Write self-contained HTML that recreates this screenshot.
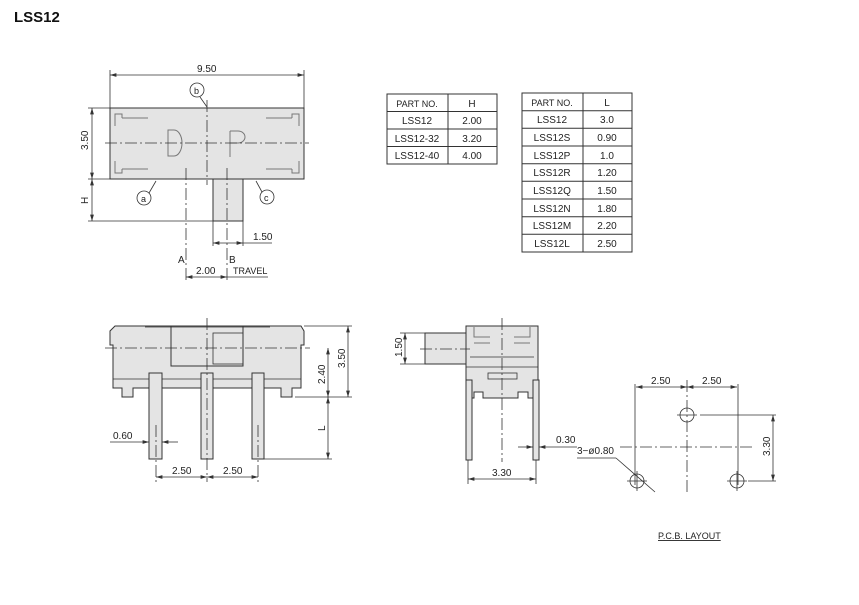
<!DOCTYPE html>
<html><head><meta charset="utf-8"><style>
body{margin:0;background:#fff}
svg{display:block}
text{font-family:"Liberation Sans",sans-serif;font-size:10px;fill:#222}
.b{fill:#e4e4e4;stroke:#333;stroke-width:1}
.l{stroke:#333;stroke-width:0.8;fill:none}
.g{stroke:#777;stroke-width:1;fill:none}
.c{stroke:#333;stroke-width:0.8;fill:none;stroke-dasharray:12 3 2 3}
.t{stroke:#333;stroke-width:1;fill:none}
</style></head><body>
<svg width="859" height="605" viewBox="0 0 859 605">
<defs>
<marker id="a" viewBox="0 0 10 6" refX="10" refY="3" markerWidth="8" markerHeight="5" orient="auto-start-reverse"><path d="M0,0L10,3L0,6z" fill="#333"/></marker>
</defs>
<text x="14" y="22" style="font-size:15px;font-weight:bold;fill:#111">LSS12</text>

<!-- TOP VIEW -->
<rect class="b" x="110" y="108" width="194" height="71"/>
<rect class="b" x="213" y="179" width="30" height="42"/>
<path class="g" d="M115,126V114H122V118M148,118H122M299,126V114H292V118M266,118H292M115,161V173H122V169M148,169H122M299,161V173H292V169M266,169H292"/>
<path d="M168,130h6a8,13 0 0 1 0,26h-6z" class="g"/>
<path class="g" d="M230,131v26M230,131h8a7,6 0 0 1 0,12h-8"/>
<line class="c" x1="105" y1="143" x2="309" y2="143"/>
<line class="c" x1="207" y1="100" x2="207" y2="185"/>
<line class="l" x1="110" y1="70" x2="110" y2="108"/><line class="l" x1="304" y1="70" x2="304" y2="108"/>
<line class="l" x1="110" y1="75" x2="304" y2="75" marker-start="url(#a)" marker-end="url(#a)"/>
<text x="197" y="72">9.50</text>
<line class="l" x1="88" y1="108" x2="110" y2="108"/><line class="l" x1="88" y1="179" x2="110" y2="179"/><line class="l" x1="88" y1="221" x2="213" y2="221"/>
<line class="l" x1="92" y1="108" x2="92" y2="179" marker-start="url(#a)" marker-end="url(#a)"/>
<line class="l" x1="92" y1="179" x2="92" y2="221" marker-start="url(#a)" marker-end="url(#a)"/>
<text transform="translate(88,150) rotate(-90)">3.50</text>
<text transform="translate(88,204) rotate(-90)">H</text>
<line class="c" x1="186" y1="168" x2="186" y2="282"/>
<line class="c" x1="227" y1="168" x2="227" y2="282"/>
<line class="l" x1="213" y1="221" x2="213" y2="246"/><line class="l" x1="243" y1="221" x2="243" y2="246"/>
<line class="l" x1="213" y1="243" x2="243" y2="243" marker-start="url(#a)" marker-end="url(#a)"/>
<line class="l" x1="243" y1="243" x2="272" y2="243"/>
<text x="253" y="240">1.50</text>
<text x="178" y="263">A</text><text x="229" y="263">B</text>
<line class="l" x1="186" y1="277" x2="227" y2="277" marker-start="url(#a)" marker-end="url(#a)"/>
<line class="l" x1="227" y1="277" x2="268" y2="277"/>
<text x="196" y="274">2.00</text><text x="233" y="274" style="font-size:9px">TRAVEL</text>
<circle class="l" cx="197" cy="90" r="7" fill="#fff"/><text x="194" y="94" style="font-size:9px">b</text>
<line class="l" x1="200" y1="97" x2="207" y2="107"/>
<circle class="l" cx="144" cy="198" r="7" fill="#fff"/><text x="141" y="202" style="font-size:9px">a</text>
<line class="l" x1="149" y1="193" x2="156" y2="181"/>
<circle class="l" cx="267" cy="197" r="7" fill="#fff"/><text x="264" y="201" style="font-size:9px">c</text>
<line class="l" x1="262" y1="192" x2="256" y2="181"/>

<!-- TABLES -->
<g class="t">
<rect x="387" y="94" width="110" height="70"/><line x1="448" y1="94" x2="448" y2="164"/>
<line x1="387" y1="111.5" x2="497" y2="111.5"/><line x1="387" y1="129" x2="497" y2="129"/><line x1="387" y1="146.5" x2="497" y2="146.5"/>
<rect x="522" y="93" width="110" height="159"/><line x1="583" y1="93" x2="583" y2="252"/>
<line x1="522" y1="110.7" x2="632" y2="110.7"/><line x1="522" y1="128.3" x2="632" y2="128.3"/><line x1="522" y1="146" x2="632" y2="146"/><line x1="522" y1="163.7" x2="632" y2="163.7"/><line x1="522" y1="181.3" x2="632" y2="181.3"/><line x1="522" y1="199" x2="632" y2="199"/><line x1="522" y1="216.7" x2="632" y2="216.7"/><line x1="522" y1="234.3" x2="632" y2="234.3"/>
</g>
<g style="text-anchor:middle">
<text x="417" y="107" style="font-size:9px">PART NO.</text><text x="472" y="107">H</text>
<text x="417" y="124">LSS12</text><text x="472" y="124">2.00</text>
<text x="417" y="142">LSS12-32</text><text x="472" y="142">3.20</text>
<text x="417" y="159">LSS12-40</text><text x="472" y="159">4.00</text>
<text x="552" y="106" style="font-size:9px">PART NO.</text><text x="607" y="106">L</text>
<text x="552" y="123">LSS12</text><text x="607" y="123">3.0</text>
<text x="552" y="141">LSS12S</text><text x="607" y="141">0.90</text>
<text x="552" y="159">LSS12P</text><text x="607" y="159">1.0</text>
<text x="552" y="176">LSS12R</text><text x="607" y="176">1.20</text>
<text x="552" y="194">LSS12Q</text><text x="607" y="194">1.50</text>
<text x="552" y="212">LSS12N</text><text x="607" y="212">1.80</text>
<text x="552" y="229">LSS12M</text><text x="607" y="229">2.20</text>
<text x="552" y="247">LSS12L</text><text x="607" y="247">2.50</text>
</g>

<!-- FRONT VIEW -->
<path class="b" d="M115,326H301L304,331V345H301V388H292V397H281V388H133V397H122V388H113V345H110V331Z"/>
<line class="l" x1="113" y1="379" x2="301" y2="379"/>
<rect class="g" x="171" y="326" width="72" height="40" style="stroke:#333"/>
<rect class="l" x="213" y="333" width="30" height="31"/>
<line class="l" x1="145" y1="327" x2="270" y2="327"/>
<rect class="b" x="149" y="373" width="13" height="86"/>
<rect class="b" x="201" y="373" width="12" height="86"/>
<rect class="b" x="252" y="373" width="12" height="86"/>
<line class="c" x1="105" y1="348" x2="310" y2="348"/>
<line class="c" x1="207" y1="318" x2="207" y2="482"/>
<line class="c" x1="156" y1="425" x2="156" y2="482"/>
<line class="c" x1="258" y1="425" x2="258" y2="482"/>
<line class="l" x1="304" y1="326" x2="352" y2="326"/><line class="l" x1="295" y1="397" x2="352" y2="397"/><line class="l" x1="264" y1="459" x2="332" y2="459"/>
<line class="l" x1="348" y1="326" x2="348" y2="397" marker-start="url(#a)" marker-end="url(#a)"/>
<line class="l" x1="328" y1="348" x2="328" y2="397" marker-start="url(#a)" marker-end="url(#a)"/>
<line class="l" x1="328" y1="397" x2="328" y2="459" marker-start="url(#a)" marker-end="url(#a)"/>
<text transform="translate(345,368) rotate(-90)">3.50</text>
<text transform="translate(325,384) rotate(-90)">2.40</text>
<text transform="translate(325,431) rotate(-90)">L</text>
<line class="l" x1="156" y1="477" x2="207" y2="477" marker-start="url(#a)" marker-end="url(#a)"/>
<line class="l" x1="207" y1="477" x2="258" y2="477" marker-start="url(#a)" marker-end="url(#a)"/>
<text x="172" y="474">2.50</text><text x="223" y="474">2.50</text>
<line class="l" x1="110" y1="442" x2="149" y2="442" marker-end="url(#a)"/>
<line class="l" x1="162" y1="442" x2="178" y2="442" marker-start="url(#a)"/>
<text x="113" y="439">0.60</text>

<!-- SIDE VIEW -->
<rect class="b" x="425" y="333" width="41" height="31"/>
<path class="b" d="M466,326H538V398H528V392H518V398H483V392H474V398H466Z"/>
<path class="g" d="M474,327V337H490M530,327V337H514M474,343H490M514,343H530"/>
<line class="l" x1="466" y1="367" x2="538" y2="367"/>
<line class="l" x1="470" y1="357" x2="534" y2="357"/>
<rect class="l" x="488" y="373" width="29" height="6" fill="#fff"/>
<rect class="b" x="466" y="380" width="6" height="80"/>
<rect class="b" x="533" y="380" width="6" height="80"/>
<line class="c" x1="502" y1="318" x2="502" y2="462"/>
<line class="c" x1="420" y1="349" x2="470" y2="349"/>
<line class="l" x1="400" y1="333" x2="425" y2="333"/><line class="l" x1="400" y1="364" x2="425" y2="364"/>
<line class="l" x1="405" y1="333" x2="405" y2="364" marker-start="url(#a)" marker-end="url(#a)"/>
<text transform="translate(402,357) rotate(-90)">1.50</text>
<line class="l" x1="468" y1="460" x2="468" y2="484"/><line class="l" x1="536" y1="460" x2="536" y2="484"/>
<line class="l" x1="468" y1="479" x2="536" y2="479" marker-start="url(#a)" marker-end="url(#a)"/>
<text x="492" y="476">3.30</text>
<line class="l" x1="518" y1="447" x2="533" y2="447" marker-end="url(#a)"/>
<line class="l" x1="539" y1="447" x2="577" y2="447" marker-start="url(#a)"/>
<text x="556" y="443">0.30</text>

<!-- PCB -->
<g class="l">
<line x1="635" y1="384" x2="635" y2="485"/><line x1="738" y1="384" x2="738" y2="485"/>
<line x1="636" y1="387" x2="687" y2="387" marker-start="url(#a)" marker-end="url(#a)"/>
<line x1="687" y1="387" x2="737" y2="387" marker-start="url(#a)" marker-end="url(#a)"/>
<line x1="700" y1="415" x2="776" y2="415"/><line x1="748" y1="481" x2="776" y2="481"/>
<line x1="773" y1="415" x2="773" y2="481" marker-start="url(#a)" marker-end="url(#a)"/>
<circle cx="687" cy="415" r="7"/><circle cx="637" cy="481" r="7"/><circle cx="737" cy="481" r="7"/>
<line x1="677" y1="415" x2="697" y2="415"/><line x1="627" y1="481" x2="647" y2="481"/><line x1="727" y1="481" x2="747" y2="481"/>
<line x1="637" y1="471" x2="637" y2="491"/><line x1="737" y1="471" x2="737" y2="491"/>
<line x1="577" y1="458" x2="616" y2="458"/><line x1="616" y1="458" x2="655" y2="492"/>
</g>
<line class="c" x1="687" y1="380" x2="687" y2="494"/>
<line class="c" x1="620" y1="447" x2="755" y2="447"/>
<text x="651" y="384">2.50</text><text x="702" y="384">2.50</text>
<text transform="translate(770,456) rotate(-90)">3.30</text>
<text x="577" y="454">3−ø0.80</text>
<text x="658" y="539" style="font-size:9px;text-decoration:underline">P.C.B.  LAYOUT</text>
</svg>
</body></html>
